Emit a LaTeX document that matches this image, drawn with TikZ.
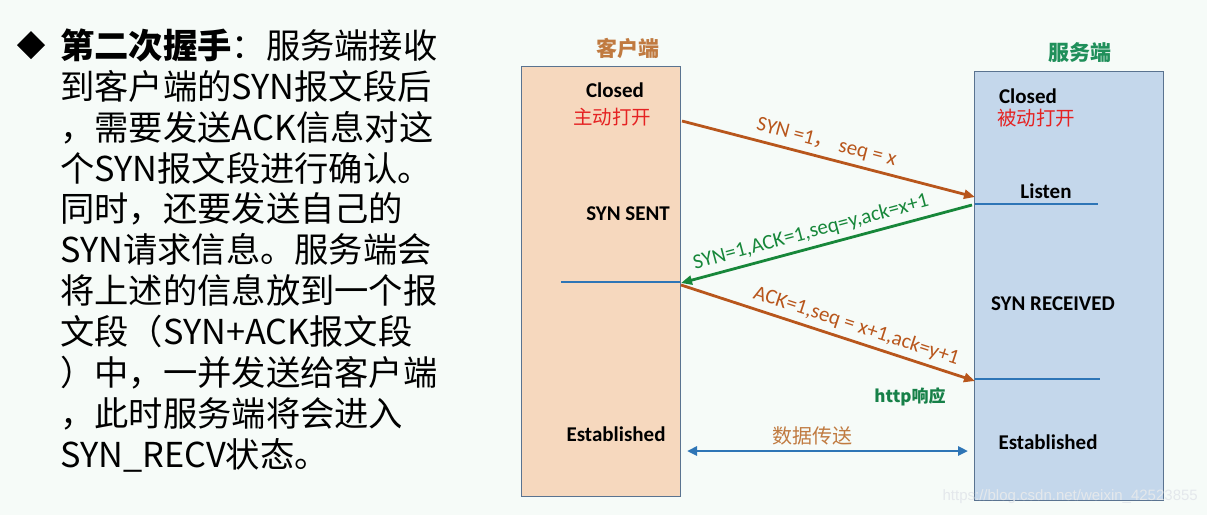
\documentclass[tikz,border=0pt]{standalone}
\usepackage{fontspec}
\setmainfont{Carlito}
\newfontfamily\cjk{Noto Sans CJK SC}
\newfontfamily\wm{Liberation Sans}
\usetikzlibrary{arrows.meta}
\definecolor{bg}{HTML}{F6FBF8}
\definecolor{clientfill}{HTML}{F6D8BE}
\definecolor{serverfill}{HTML}{C4D7EB}
\definecolor{boxline}{HTML}{5A7390}
\definecolor{brownarr}{HTML}{B8561C}
\definecolor{greenarr}{HTML}{17873A}
\definecolor{bluel}{HTML}{2E75B6}
\definecolor{redt}{HTML}{E52222}
\definecolor{clientlbl}{HTML}{C07A40}
\definecolor{serverlbl}{HTML}{1F8F5A}
\definecolor{greentxt}{HTML}{168048}
\definecolor{wmcol}{HTML}{E4E8EC}
\tikzset{
  para/.style={anchor=base west, inner sep=0, font=\cjk\fontsize{34.3}{41}\selectfont},
  state/.style={inner sep=0, font=\bfseries\fontsize{21}{24}\selectfont},
  redlbl/.style={inner sep=0, text=redt, font=\cjk\fontsize{19.5}{22}\selectfont},
  side/.style={inner sep=0, font=\cjk\bfseries\fontsize{21}{24}\selectfont},
  msg/.style={inner sep=0, font=\fontsize{21}{24}\selectfont},
  arr/.style={line width=2.8pt, -{Triangle[length=11pt,width=9pt]}},
  tline/.style={bluel, line width=2.3pt},
}
\begin{document}
\begin{tikzpicture}[x=1pt,y=-1pt]
\fill[bg] (0,0) rectangle (1207,515);
\useasboundingbox (0,0) rectangle (1207,515);

% bullet
\fill (31,31) -- (45,45) -- (31,59) -- (17,45) -- cycle;
% paragraph
\node[para] (p1) at (60,58) {\textbf{第二次握手}：服务端接收};
\node[para] (p2) at (60,99) {到客户端的SYN报文段后};
\node[para] (p3) at (60,140) {，需要发送ACK信息对这};
\node[para] (p4) at (60,181) {个SYN报文段进行确认。};
\node[para] (p5) at (60,221) {同时，还要发送自己的};
\node[para] (p6) at (60,262) {SYN请求信息。服务端会};
\node[para] (p7) at (60,303) {将上述的信息放到一个报};
\node[para] (p8) at (60,344) {文段（SYN+ACK报文段};
\node[para] (p9) at (60,385) {）中，一并发送给客户端};
\node[para] (p10) at (60,426) {，此时服务端将会进入};
\node[para] (p11) at (60,467) {SYN\_RECV状态。};

% boxes
\node[draw=boxline, line width=0.8pt, fill=clientfill, minimum width=159, minimum height=430, inner sep=0] (client) at (600.5,281) {};
\node[draw=boxline, line width=0.8pt, fill=serverfill, minimum width=189, minimum height=429, inner sep=0] (server) at (1068.5,285.5) {};
\node[side, text=clientlbl] (clbl) at (628,48) {客户端};
\node[side, text=serverlbl] (slbl) at (1080,53) {服务端};

% client states
\node[state] (cclosed) at (615,90) {Closed};
\node[redlbl] (copen) at (612,117) {主动打开};
\node[state] (csent) at (628,214) {SYN SENT};
\node[state] (cest) at (616,434) {Established};
% server states
\node[state] (sclosed) at (1028,96) {Closed};
\node[redlbl] (sopen) at (1036,118) {被动打开};
\node[state] (slisten) at (1046,191) {Listen};
\node[state] (srecv) at (1053,304) {SYN RECEIVED};
\node[state] (sest) at (1048,442) {Established};

% timeline marks
\coordinate (l1a) at (975,204); \coordinate (l1b) at (1098,204);
\coordinate (l2a) at (561,282); \coordinate (l2b) at (680,282);
\coordinate (l3a) at (975,379); \coordinate (l3b) at (1100,379);
\draw[tline] (l1a) -- (l1b);
\draw[tline] (l2a) -- (l2b);
\draw[tline] (l3a) -- (l3b);

% messages
\coordinate (c1s) at (682,121); \coordinate (s1e) at (975,197);
\coordinate (s2s) at (972,205); \coordinate (c2e) at (681,283);
\coordinate (c3s) at (681,285); \coordinate (s3e) at (975,381);
\draw[arr, brownarr] (c1s) -- node[msg, sloped, above=5pt, pos=0.48, text=brownarr] (m1) {SYN =1{\cjk ，}\ seq = x} (s1e);
\draw[arr, greenarr] (s2s) -- node[msg, sloped, above=5pt, pos=0.54, text=greenarr] (m2) {SYN=1,ACK=1,seq=y,ack=x+1} (c2e);
\draw[arr, brownarr] (c3s) -- node[msg, sloped, above=5pt, pos=0.58, text=brownarr] (m3) {ACK=1,seq = x+1,ack=y+1} (s3e);

\node[inner sep=0, text=greentxt, font=\cjk\bfseries\fontsize{17}{20}\selectfont] (http) at (910,397) {http响应};

% data transfer
\coordinate (d1) at (687,451); \coordinate (d2) at (968,451);
\draw[bluel, line width=2.8pt, {Triangle[length=10pt,width=9pt]}-{Triangle[length=10pt,width=9pt]}] (d1) -- (d2);
\node[inner sep=0, text=clientlbl, font=\cjk\fontsize{20}{22}\selectfont] (data) at (812,436) {数据传送};

% watermark
\node[inner sep=0, anchor=east, text=wmcol, font=\wm\fontsize{15}{17}\selectfont] (wmk) at (1198,497) {https://blog.csdn.net/weixin\_42523855};
\end{tikzpicture}
\end{document}
